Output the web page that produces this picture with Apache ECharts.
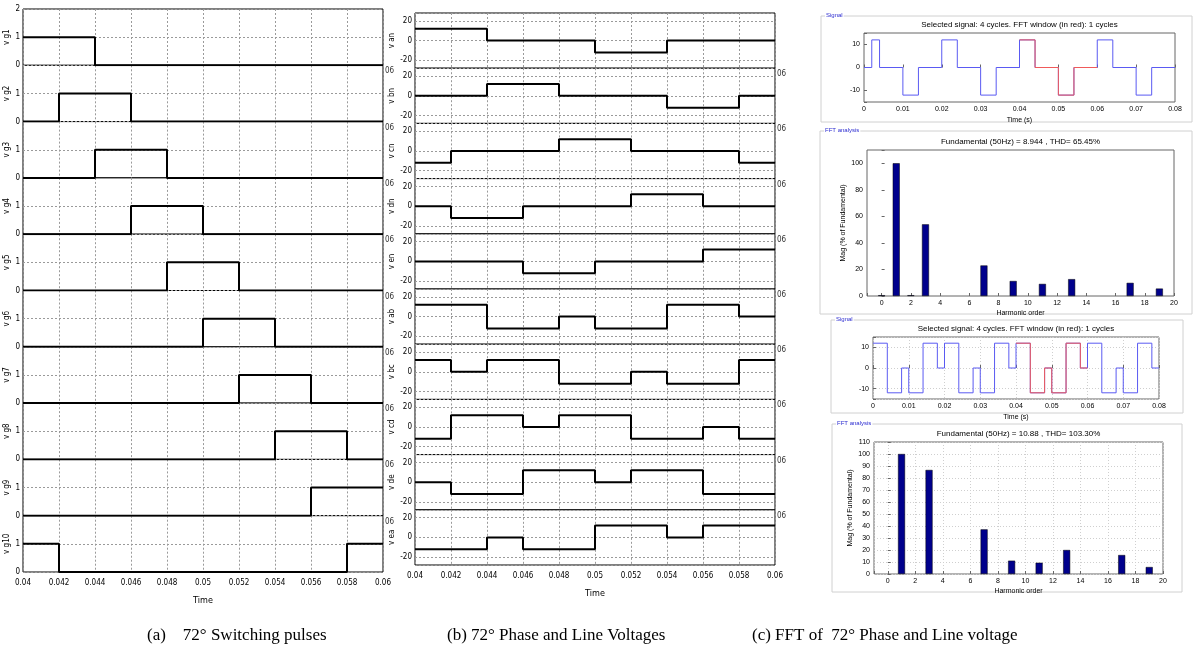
<!DOCTYPE html>
<html lang="en">
<head>
<meta charset="UTF-8">
<title>72 degree pulses, voltages and FFT</title>
<style>
  html, body { margin: 0; padding: 0; background: #fff; }
  #main { width: 1193px; height: 653px; }
</style>
</head>
<body>
<div id="main"></div>
<script src="https://cdn.jsdelivr.net/npm/echarts@6/dist/echarts.min.js"></script>
<script>
// time edges of the 2 ms slots used in panels (a) and (b)
const tEdges = [0.04, 0.042, 0.044, 0.046, 0.048, 0.05, 0.052, 0.054, 0.056, 0.058, 0.06];

// (a) switching pulses - level held in each slot
const pulseNames = ['v g1', 'v g2', 'v g3', 'v g4', 'v g5', 'v g6', 'v g7', 'v g8', 'v g9', 'v g10'];
const vg1  = [1, 1, 0, 0, 0, 0, 0, 0, 0, 0];
const vg2  = [0, 1, 1, 0, 0, 0, 0, 0, 0, 0];
const vg3  = [0, 0, 1, 1, 0, 0, 0, 0, 0, 0];
const vg4  = [0, 0, 0, 1, 1, 0, 0, 0, 0, 0];
const vg5  = [0, 0, 0, 0, 1, 1, 0, 0, 0, 0];
const vg6  = [0, 0, 0, 0, 0, 1, 1, 0, 0, 0];
const vg7  = [0, 0, 0, 0, 0, 0, 1, 1, 0, 0];
const vg8  = [0, 0, 0, 0, 0, 0, 0, 1, 1, 0];
const vg9  = [0, 0, 0, 0, 0, 0, 0, 0, 1, 1];
const vg10 = [1, 0, 0, 0, 0, 0, 0, 0, 0, 1];
const pulses = [vg1, vg2, vg3, vg4, vg5, vg6, vg7, vg8, vg9, vg10];

// (b) phase and line voltages (V)
const voltNames = ['v an', 'v bn', 'v cn', 'v dn', 'v en', 'v ab', 'v bc', 'v cd', 'v de', 'v ea'];
const van = [12, 12, 0, 0, 0, -12, -12, 0, 0, 0];
const vbn = [0, 0, 12, 12, 0, 0, 0, -12, -12, 0];
const vcn = [-12, 0, 0, 0, 12, 12, 0, 0, 0, -12];
const vdn = [0, -12, -12, 0, 0, 0, 12, 12, 0, 0];
const ven = [0, 0, 0, -12, -12, 0, 0, 0, 12, 12];
const vab = [12, 12, -12, -12, 0, -12, -12, 12, 12, 0];
const vbc = [12, 0, 12, 12, -12, -12, 0, -12, -12, 12];
const vcd = [-12, 12, 12, 0, 12, 12, -12, -12, 0, -12];
const vde = [0, -12, -12, 12, 12, 0, 12, 12, -12, -12];
const vea = [-12, -12, 0, -12, -12, 12, 12, 0, 12, 12];
const volts = [van, vbn, vcn, vdn, ven, vab, vbc, vcd, vde, vea];

// (c) FFT tool signals: change times (s) and level after each change
const sig1T = [0, 0.002, 0.004, 0.01, 0.014, 0.02, 0.024, 0.03, 0.034, 0.04, 0.044, 0.05, 0.054, 0.06, 0.064, 0.07, 0.074, 0.08];
const sig1V = [0, 12, 0, -12, 0, 12, 0, -12, 0, 12, 0, -12, 0, 12, 0, -12, 0];
const sig2T = [0, 0.004, 0.008, 0.01, 0.014, 0.018, 0.02, 0.024, 0.028, 0.03, 0.034, 0.038, 0.04,
               0.044, 0.048, 0.05, 0.054, 0.058, 0.06, 0.064, 0.068, 0.07, 0.074, 0.078, 0.08];
const sig2V = [12, -12, 0, -12, 12, 0, 12, -12, 0, -12, 12, 0, 12, -12, 0, -12, 12, 0, 12, -12, 0, -12, 12, 0];
const fftWindow = [0.04, 0.06];

// harmonic spectra (% of fundamental)
const fft1Order = [0, 1, 2, 3, 7, 9, 11, 13, 17, 19];
const fft1Mag   = [0.6, 100, 0.6, 54, 23, 11.3, 9.1, 12.7, 9.9, 5.6];
const fft2Order = [1, 3, 7, 9, 11, 13, 17, 19];
const fft2Mag   = [100, 86.7, 37.2, 11.1, 9.4, 20, 15.8, 5.8];

const fft1Title = 'Fundamental (50Hz) = 8.944 , THD= 65.45%';
const fft2Title = 'Fundamental (50Hz) = 10.88 , THD= 103.30%';
const sigTitle = 'Selected signal: 4 cycles. FFT window (in red): 1 cycles';

const narrow = '"DejaVu Sans Condensed", "Liberation Sans Narrow", "Liberation Sans", sans-serif';
const sans = '"Liberation Sans", Arial, sans-serif';

function slotSteps(levels) {
  const d = levels.map((v, i) => [tEdges[i], v]);
  d.push([tEdges[tEdges.length - 1], levels[levels.length - 1]]);
  return d;
}
function changeSteps(times, levels, from, to) {
  const d = [];
  for (let i = 0; i < levels.length; i++) {
    const a = times[i], b = times[i + 1];
    if (b <= from || a >= to) continue;
    d.push([Math.max(a, from), levels[i]]);
  }
  const last = Math.min(times[times.length - 1], to);
  const idx = times.findIndex((t, i) => t < last && times[i + 1] >= last);
  d.push([last, levels[idx]]);
  return d;
}

const grids = [], xAxes = [], yAxes = [], series = [], graphics = [];
const dotted = { color: '#9a9a9a', type: [2, 2], width: 1 };

// stacked scope plots for (a) and (b)
function scopeStack(names, data, left, top, h, ymin, ymax, opt) {
  names.forEach((nm, i) => {
    const g = grids.length;
    grids.push({ left: left, top: top + i * h, width: 360, height: h, show: true,
                 borderColor: '#000', borderWidth: 1, backgroundColor: '#fff' });
    const last = i === names.length - 1;
    xAxes.push({
      gridIndex: g, type: 'value', min: 0.04, max: 0.06, interval: 0.002,
      axisLine: { show: false }, axisTick: { show: false },
      splitLine: { show: true, lineStyle: dotted },
      axisLabel: { show: last, fontSize: 8, color: '#000', margin: 7, fontFamily: narrow,
                   formatter: v => String(+v.toFixed(3)) },
      name: last ? 'Time' : '', nameLocation: 'middle', nameGap: 24,
      nameTextStyle: { fontSize: 9, color: '#000', fontFamily: narrow }
    });
    yAxes.push({
      gridIndex: g, type: 'value', min: ymin, max: ymax, splitNumber: opt.split,
      axisLine: { show: false }, axisTick: { show: false },
      splitLine: { show: true, lineStyle: dotted },
      axisLabel: { fontSize: 8, color: '#000', margin: 3, fontFamily: narrow,
                   formatter: v => opt.fmt(v, i) },
      name: nm, nameLocation: 'middle', nameRotate: 90, nameGap: 12,
      nameTextStyle: { fontSize: 8, color: '#000', fontFamily: narrow }
    });
    series.push({
      type: 'line', step: 'end', xAxisIndex: g, yAxisIndex: g, showSymbol: false,
      data: slotSteps(data[i]), lineStyle: { color: '#000', width: 2 }, silent: true
    });
    if (i > 0) {
      graphics.push({ type: 'text', x: left + 362, y: top + i * h + 2,
        style: { text: '06', fill: '#333', font: '8px ' + narrow } });
    }
  });
}

scopeStack(pulseNames, pulses, 23, 9, 56.3, 0, 2,
  { split: 2, fmt: (v, i) => (v === 2 && i > 0 ? '' : String(v)) });
scopeStack(voltNames, volts, 415, 13, 55.2, -28, 28,
  { split: 3, fmt: v => (v % 20 === 0 ? String(v) : '') });

// (c) FFT tool frames
function frame(x, y, w, h, label) {
  graphics.push({ type: 'rect', z: -5, shape: { x: x, y: y, width: w, height: h },
    style: { fill: 'none', stroke: '#d0d0d0', lineWidth: 1 } });
  graphics.push({ type: 'text', x: x + 4, y: y - 4,
    style: { text: label, fill: '#2b2bd0', font: '6px ' + sans, backgroundColor: '#fff', padding: [0, 1] } });
}
function title(x, y, text) {
  graphics.push({ type: 'text', x: x, y: y,
    style: { text: text, fill: '#000', font: '8px ' + sans, textAlign: 'center', textVerticalAlign: 'middle' } });
}

const tickLab = { fontSize: 7, color: '#000', fontFamily: sans, margin: 4 };
const nameStyle = { fontSize: 7, color: '#000', fontFamily: sans };

function signalPlot(box, gbox, times, levels, withGrid) {
  frame(box[0], box[1], box[2], box[3], 'Signal');
  title(gbox.left + gbox.width / 2, gbox.top - 8, sigTitle);
  const g = grids.length;
  grids.push(Object.assign({ show: true, borderColor: '#666', borderWidth: 1, backgroundColor: '#fff' }, gbox));
  xAxes.push({
    gridIndex: g, type: 'value', min: 0, max: 0.08, interval: 0.01,
    axisLine: { show: false }, axisTick: { inside: true, length: 3, lineStyle: { color: '#666' } },
    splitLine: { show: withGrid, lineStyle: { color: '#cfcfcf', type: [1, 2] } },
    axisLabel: Object.assign({ formatter: v => String(+v.toFixed(2)) }, tickLab),
    name: 'Time (s)', nameLocation: 'middle', nameGap: 15, nameTextStyle: nameStyle
  });
  yAxes.push({
    gridIndex: g, type: 'value', min: -15, max: 15, splitNumber: 3,
    axisLine: { show: false }, axisTick: { inside: true, length: 3, lineStyle: { color: '#666' } },
    splitLine: { show: withGrid, lineStyle: { color: '#cfcfcf', type: [1, 2] } },
    axisLabel: Object.assign({ formatter: v => (v % 10 === 0 ? String(v) : '') }, tickLab)
  });
  series.push({ type: 'line', step: 'end', xAxisIndex: g, yAxisIndex: g, showSymbol: false, silent: true,
    data: changeSteps(times, levels, 0, 0.08), lineStyle: { color: '#5a5af2', width: 1 } });
  series.push({ type: 'line', step: 'end', xAxisIndex: g, yAxisIndex: g, showSymbol: false, silent: true,
    data: changeSteps(times, levels, fftWindow[0], fftWindow[1]), lineStyle: { color: '#f05a5a', width: 1 }, z: 3 });
}

function fftPlot(box, gbox, ttl, orders, mags, yOpt, withGrid) {
  frame(box[0], box[1], box[2], box[3], 'FFT analysis');
  title(gbox.left + gbox.width / 2, gbox.top - 8, ttl);
  const g = grids.length;
  grids.push(Object.assign({ show: true, borderColor: '#666', borderWidth: 1, backgroundColor: '#fff' }, gbox));
  xAxes.push({
    gridIndex: g, type: 'value', min: -1, max: 20, splitNumber: 10,
    axisLine: { show: false }, axisTick: { inside: true, length: 3, lineStyle: { color: '#666' } },
    splitLine: { show: withGrid, lineStyle: { color: '#cfcfcf', type: [1, 2] } },
    axisLabel: Object.assign({ formatter: v => (v >= 0 ? String(v) : '') }, tickLab),
    name: 'Harmonic order', nameLocation: 'middle', nameGap: 14, nameTextStyle: nameStyle
  });
  yAxes.push(Object.assign({
    gridIndex: g, type: 'value', min: 0, max: 110,
    axisLine: { show: false }, axisTick: { inside: true, length: 3, lineStyle: { color: '#666' } },
    splitLine: { show: withGrid, lineStyle: { color: '#cfcfcf', type: [1, 2] } },
    axisLabel: Object.assign({ formatter: yOpt.fmt }, tickLab),
    name: 'Mag (% of Fundamental)', nameLocation: 'middle', nameRotate: 90, nameGap: 20, nameTextStyle: nameStyle
  }, yOpt.scale));
  series.push({ type: 'bar', xAxisIndex: g, yAxisIndex: g, barWidth: 7, silent: true,
    data: orders.map((o, i) => [o, mags[i]]),
    itemStyle: { color: '#00008c', borderColor: '#000', borderWidth: 0.5 } });
}

signalPlot([821, 16, 371, 106], { left: 864, top: 33, width: 311, height: 69 }, sig1T, sig1V, false);
fftPlot([820, 131, 372, 183], { left: 867, top: 150, width: 307, height: 146 }, fft1Title, fft1Order, fft1Mag,
  { scale: { splitNumber: 5 }, fmt: v => (v % 20 === 0 ? String(v) : '') }, false);
signalPlot([831, 320, 352, 93], { left: 873, top: 337, width: 286, height: 62 }, sig2T, sig2V, true);
fftPlot([832, 424, 350, 168], { left: 874, top: 442, width: 289, height: 132 }, fft2Title, fft2Order, fft2Mag,
  { scale: { interval: 10 }, fmt: v => String(v) }, true);

// captions under the three panels
const captions = [
  ['(a)    72\u00b0 Switching pulses', 147],
  ['(b) 72\u00b0 Phase and Line Voltages', 447],
  ['(c) FFT of  72\u00b0 Phase and Line voltage', 752]
];
captions.forEach(c => graphics.push({ type: 'text', x: c[1], y: 636,
  style: { text: c[0], fill: '#000', font: '17px "Liberation Serif", "Times New Roman", serif', textVerticalAlign: 'middle' } }));

const chart = echarts.init(document.getElementById('main'));
chart.setOption({
  animation: false,
  backgroundColor: '#fff',
  grid: grids,
  xAxis: xAxes,
  yAxis: yAxes,
  series: series,
  graphic: { elements: graphics }
});
</script>
</body>
</html>
